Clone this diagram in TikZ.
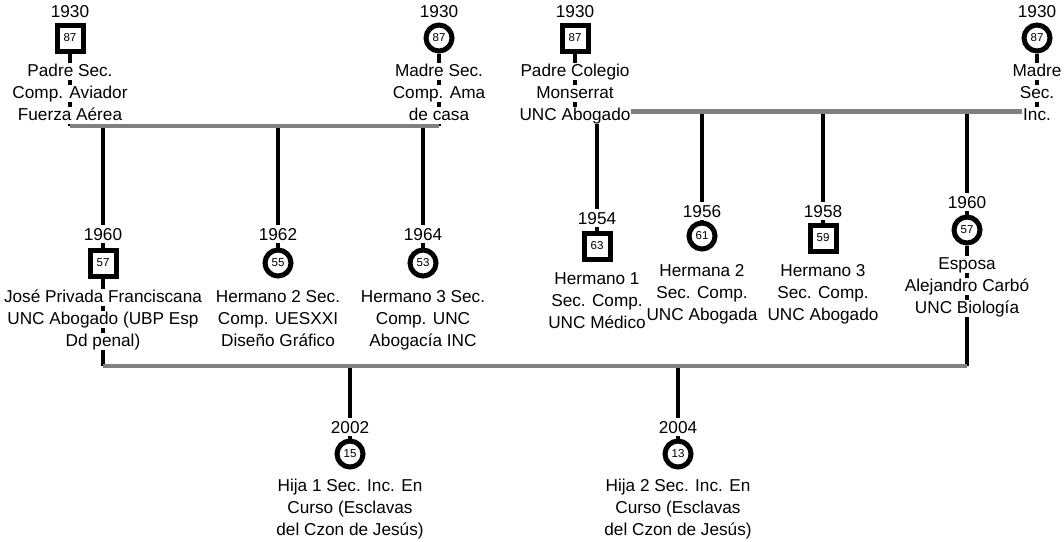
\documentclass[tikz,border=0pt]{standalone}
\usepackage{fontspec}
\setmainfont{Liberation Sans}
\definecolor{barg}{RGB}{128,128,128}
\pgfdeclarelayer{background}
\pgfsetlayers{background,main}
\begin{document}
\begin{tikzpicture}[x=1pt,y=-1pt,
  txt/.style={font=\fontsize{17.2}{22}\selectfont, anchor=base, fill=white, inner xsep=1pt, inner ysep=0pt, text height=13pt, text depth=4pt},
  yearlbl/.style={txt, text height=15pt, text depth=2.5pt},
  sq/.style={draw, fill=white, line width=5pt, minimum size=26pt, inner sep=0pt, font=\fontsize{11.5}{11.5}\selectfont},
  cir/.style={sq, circle},
  bl/.style={line width=4.5pt, black},
  gbar/.style={line width=4.5pt, barg}]
\useasboundingbox (0,0) rectangle (1064,541);

% ---- Couple 1
\node[yearlbl] (P1y) at (70,17.5) {1930};
\node[sq] (P1) at (70,38) {87};
\node[txt] (P1a) at (70,76) {Padre Sec.};
\node[txt] (P1b) at (70,98) {Comp. Aviador};
\node[txt] (P1c) at (70,120) {Fuerza Aérea};

\node[yearlbl] (M1y) at (439,17.5) {1930};
\node[cir] (M1) at (439,38) {87};
\node[txt] (M1a) at (439,76) {Madre Sec.};
\node[txt] (M1b) at (439,98) {Comp. Ama};
\node[txt] (M1c) at (439,120) {de casa};

% ---- Couple 2
\node[yearlbl] (P2y) at (575,17.5) {1930};
\node[sq] (P2) at (575,38) {87};
\node[txt] (P2a) at (575,76) {Padre Colegio};
\node[txt] (P2b) at (575,98) {Monserrat};
\node[txt] (P2c) at (575,120) {UNC Abogado};

\node[yearlbl] (M2y) at (1037,17.5) {1930};
\node[cir] (M2) at (1037,38) {87};
\node[txt] (M2a) at (1037,76) {Madre};
\node[txt] (M2b) at (1037,98) {Sec.};
\node[txt] (M2c) at (1037,120) {Inc.};

% ---- Children of couple 1
\node[yearlbl] (Jy) at (103,240) {1960};
\node[sq] (J) at (103,263) {57};
\node[txt] (Ja) at (103,302) {José Privada Franciscana};
\node[txt] (Jb) at (103,324) {UNC Abogado (UBP Esp};
\node[txt] (Jc) at (103,346) {Dd penal)};

\node[yearlbl] (H2y) at (278,240) {1962};
\node[cir] (H2) at (278,263) {55};
\node[txt] (H2a) at (278,302) {Hermano 2 Sec.};
\node[txt] (H2b) at (278,324) {Comp. UESXXI};
\node[txt] (H2c) at (278,346) {Diseño Gráfico};

\node[yearlbl] (H3y) at (423,240) {1964};
\node[cir] (H3) at (423,263) {53};
\node[txt] (H3a) at (423,302) {Hermano 3 Sec.};
\node[txt] (H3b) at (423,324) {Comp. UNC};
\node[txt] (H3c) at (423,346) {Abogacía INC};

% ---- Children of couple 2
\node[yearlbl] (B1y) at (597,224) {1954};
\node[sq] (B1) at (597,246) {63};
\node[txt] (B1a) at (597,284) {Hermano 1};
\node[txt] (B1b) at (597,306) {Sec. Comp.};
\node[txt] (B1c) at (597,328) {UNC Médico};

\node[yearlbl] (B2y) at (702,217) {1956};
\node[cir] (B2) at (702,236) {61};
\node[txt] (B2a) at (702,276) {Hermana 2};
\node[txt] (B2b) at (702,298) {Sec. Comp.};
\node[txt] (B2c) at (702,320) {UNC Abogada};

\node[yearlbl] (B3y) at (823,217) {1958};
\node[sq] (B3) at (823,238) {59};
\node[txt] (B3a) at (823,276) {Hermano 3};
\node[txt] (B3b) at (823,298) {Sec. Comp.};
\node[txt] (B3c) at (823,320) {UNC Abogado};

\node[yearlbl] (Ey) at (967,208) {1960};
\node[cir] (E) at (967,230) {57};
\node[txt] (Ea) at (967,269) {Esposa};
\node[txt] (Eb) at (967,291) {Alejandro Carbó};
\node[txt] (Ec) at (967,313) {UNC Biología};

% ---- Grandchildren
\node[yearlbl] (D1y) at (350,433) {2002};
\node[cir] (D1) at (350,454) {15};
\node[txt] (D1a) at (350,491) {Hija 1 Sec. Inc. En};
\node[txt] (D1b) at (350,513) {Curso (Esclavas};
\node[txt] (D1c) at (350,535) {del Czon de Jesús)};

\node[yearlbl] (D2y) at (678,433) {2004};
\node[cir] (D2) at (678,454) {13};
\node[txt] (D2a) at (678,491) {Hija 2 Sec. Inc. En};
\node[txt] (D2b) at (678,513) {Curso (Esclavas};
\node[txt] (D2c) at (678,535) {del Czon de Jesús)};

% ---- junction points
\coordinate (b1L) at (70,126);
\coordinate (b1R) at (439,126);
\coordinate (c1a) at (103,126);
\coordinate (c1b) at (278,126);
\coordinate (c1c) at (423,126);
\coordinate (b2L) at (575,111.5);
\coordinate (b2R) at (1037,111.5);
\coordinate (c2a) at (597,111.5);
\coordinate (c2b) at (702,111.5);
\coordinate (c2c) at (823,111.5);
\coordinate (c2d) at (967,111.5);
\coordinate (b3L) at (103,366);
\coordinate (b3R) at (967,366);
\coordinate (c3a) at (350,366);
\coordinate (c3b) at (678,366);

\begin{pgfonlayer}{background}
  \draw[bl] (P1) -- (b1L);
  \draw[bl] (M1) -- (b1R);
  \draw[bl] (c1a) -- (J);
  \draw[bl] (c1b) -- (H2);
  \draw[bl] (c1c) -- (H3);
  \draw[bl] (P2) -- (b2L);
  \draw[bl] (M2) -- (b2R);
  \draw[bl] (c2a) -- (B1);
  \draw[bl] (c2b) -- (B2);
  \draw[bl] (c2c) -- (B3);
  \draw[bl] (c2d) -- (E);
  \draw[bl] (J) -- (b3L);
  \draw[bl] (E) -- (b3R);
  \draw[bl] (c3a) -- (D1);
  \draw[bl] (c3b) -- (D2);
  \draw[gbar] (b1L) -- (b1R);
  \draw[gbar] (b2L) -- (b2R);
  \draw[gbar] (b3L) -- (b3R);
\end{pgfonlayer}
\end{tikzpicture}
\end{document}
